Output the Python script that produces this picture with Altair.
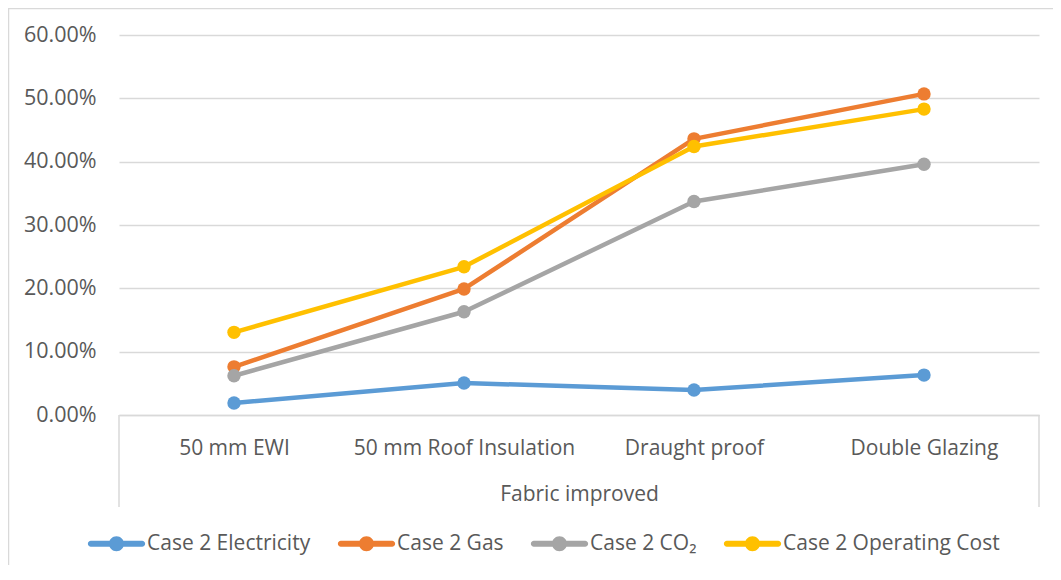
import altair as alt
import pandas as pd

categories = ["50 mm EWI", "50 mm Roof Insulation", "Draught proof", "Double Glazing"]
series_names = ["Case 2 Electricity", "Case 2 Gas", "Case 2 CO\u2082", "Case 2 Operating Cost"]
electricity = [0.019, 0.0505, 0.0395, 0.063]
gas = [0.076, 0.199, 0.436, 0.507]
co2 = [0.062, 0.163, 0.337, 0.396]
operating_cost = [0.1305, 0.234, 0.424, 0.483]
colors = ["#5B9BD5", "#ED7D31", "#A5A5A5", "#FFC000"]

rows = []
for name, vals in zip(series_names, [electricity, gas, co2, operating_cost]):
    for c, v in zip(categories, vals):
        rows.append({"Fabric": c, "Series": name, "LineSeries": name, "Value": v})
df = pd.DataFrame(rows)

TXT = "#595959"
GRID = "#D9D9D9"
W, H = 920, 380

legend_path = (
    "M-0.9,-0.105 L0.9,-0.105 A0.105,0.105 0 0,1 0.9,0.105 L-0.9,0.105 "
    "A0.105,0.105 0 0,1 -0.9,-0.105 Z "
    "M0.263,0 A0.263,0.263 0 1,1 -0.263,0 A0.263,0.263 0 1,1 0.263,0 Z"
)

x_enc = alt.X(
    "Fabric:N",
    sort=categories,
    scale=alt.Scale(type="point", padding=0.5),
    axis=alt.Axis(
        title="Fabric improved",
        labelAngle=0,
        ticks=False,
        labelPadding=22,
        titlePadding=25,
        grid=False,
        domainColor=GRID,
        domainWidth=1.5,
        labelFontSize=21,
    ),
)
y_enc = alt.Y(
    "Value:Q",
    scale=alt.Scale(domain=[0, 0.6]),
    axis=alt.Axis(
        title=None,
        format=".2%",
        values=[0, 0.1, 0.2, 0.3, 0.4, 0.5, 0.6],
        ticks=False,
        domain=False,
        labelPadding=23,
        gridColor=GRID,
        gridWidth=1.5,
        labelFontSize=21.5,
    ),
)

base = alt.Chart(df)

lines = base.mark_line(strokeWidth=4.5, strokeCap="round", strokeJoin="round").encode(
    x=x_enc,
    y=y_enc,
    stroke=alt.Stroke("LineSeries:N", sort=series_names,
                      scale=alt.Scale(domain=series_names, range=colors), legend=None),
)

points = base.mark_point(filled=True, size=180, opacity=1).encode(
    x=x_enc,
    y=y_enc,
    fill=alt.Fill(
        "Series:N",
        sort=series_names,
        scale=alt.Scale(domain=series_names, range=colors),
        legend=alt.Legend(
            title=None,
            orient="none",
            direction="horizontal",
            legendX=-31,
            legendY=480,
            symbolType=legend_path,
            symbolSize=3249,
            symbolStrokeWidth=0,
            symbolOpacity=1,
            labelFontSize=21,
            labelColor=TXT,
            labelOffset=2,
            columnPadding=26,
            labelLimit=400,
        ),
    ),
)

one = alt.Chart(pd.DataFrame({"k": [0]}))
border = one.mark_rect(fill="transparent", stroke=GRID, strokeWidth=1.5).encode(
    x=alt.value(-110.5), x2=alt.value(1200), y=alt.value(-26.5), y2=alt.value(700)
)
left_rule = one.mark_rule(color=GRID, strokeWidth=1.5).encode(
    x=alt.value(0), y=alt.value(H), y2=alt.value(472)
)
right_rule = one.mark_rule(color=GRID, strokeWidth=1.5).encode(
    x=alt.value(W), y=alt.value(H), y2=alt.value(472)
)

chart = alt.layer(border, left_rule, right_rule, lines, points).resolve_scale(
    fill="independent", stroke="independent"
).properties(
    width=W,
    height=H,
    autosize=alt.AutoSizeParams(type="none"),
    padding={"left": 111, "top": 27, "right": 14, "bottom": 150},
).configure(
    font="Open Sans",
).configure_view(
    stroke=None,
).configure_axis(
    labelFont="Open Sans",
    labelColor=TXT,
    titleFont="Open Sans",
    titleFontSize=21,
    titleFontWeight="normal",
    titleColor=TXT,
    labelLimit=400,
).configure_legend(
    labelFont="Open Sans",
)

chart.save("out.html", embed_options={"renderer": "svg", "actions": False})
